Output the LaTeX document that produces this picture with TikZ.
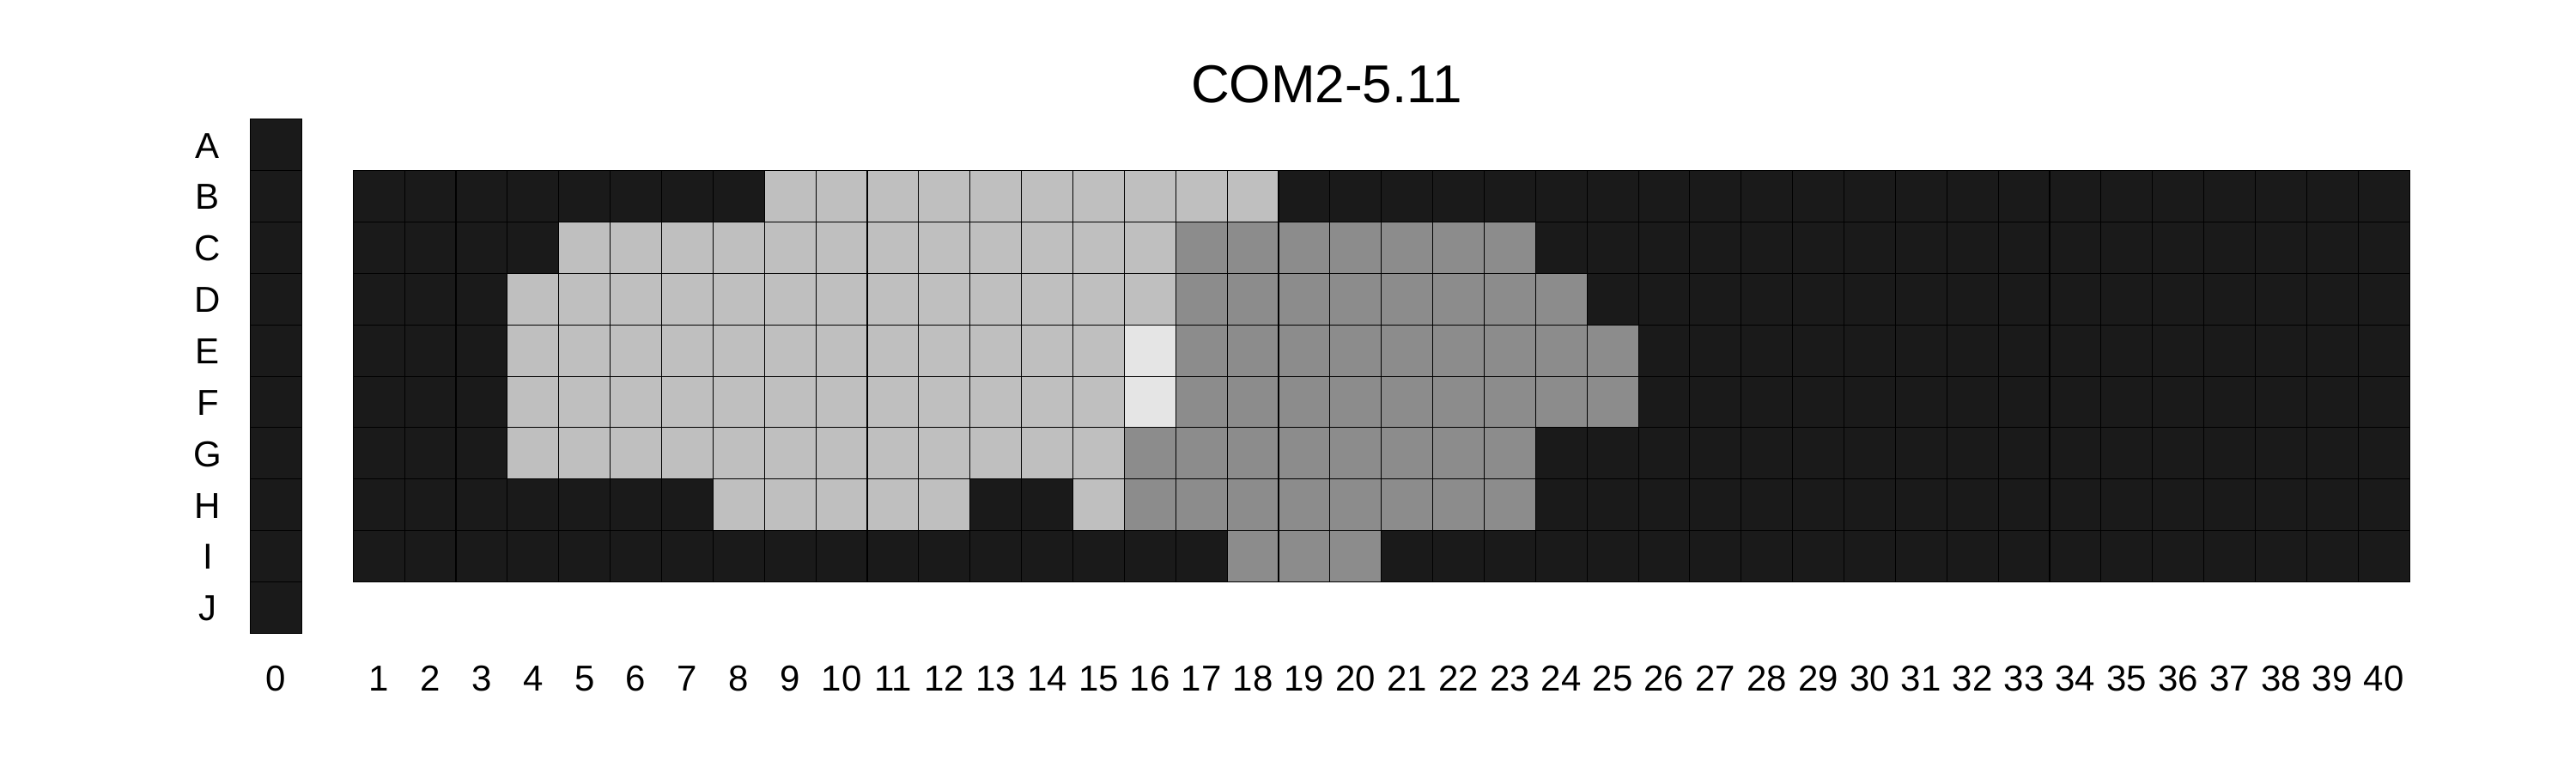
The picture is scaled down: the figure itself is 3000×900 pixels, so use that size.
\documentclass[tikz,border=0pt]{standalone}
\usepackage{fontspec}
\setmainfont{Liberation Sans}
\definecolor{cdark}{HTML}{1A1A1A}
\definecolor{clight}{HTML}{BFBFBF}
\definecolor{cmed}{HTML}{8C8C8C}
\definecolor{cvlight}{HTML}{E5E5E5}
\tikzset{
  cellbox/.style={draw=black, line width=0.55pt},
  lab/.style={inner sep=0pt, anchor=base, font=\fontsize{21pt}{25pt}\selectfont},
  ttl/.style={inner sep=0pt, anchor=base, font=\fontsize{31pt}{36pt}\selectfont}
}
\begin{document}
\begin{tikzpicture}[x=0.5pt,y=-0.5pt]
\useasboundingbox (0,0) rectangle (3000,900);
\node[ttl] (title) at (1545,119) {COM2-5.11};
\begin{scope}[shift={(411.3,138.7)}, x=29.935pt, y=-29.935pt]
  % column 0
  \foreach \r in {0,...,9}
    \draw[cellbox, fill=cdark] (-2,\r) rectangle (-1,\r+1);
  % main grid dark background
  \foreach \c in {1,...,40}
    \foreach \r in {1,...,8}
      \draw[cellbox, fill=cdark] (\c-1,\r) rectangle (\c,\r+1);
  % light cells
  \foreach \r/\a/\b in {1/9/18, 2/5/16, 3/4/16, 4/4/15, 5/4/15, 6/4/15, 7/8/12, 7/15/15}
    \foreach \c in {\a,...,\b}
      \draw[cellbox, fill=clight] (\c-1,\r) rectangle (\c,\r+1);
  % medium cells
  \foreach \r/\a/\b in {2/17/23, 3/17/24, 4/17/25, 5/17/25, 6/16/23, 7/16/23, 8/18/20}
    \foreach \c in {\a,...,\b}
      \draw[cellbox, fill=cmed] (\c-1,\r) rectangle (\c,\r+1);
  % very light cells
  \foreach \r in {4,5}
    \draw[cellbox, fill=cvlight] (15,\r) rectangle (16,\r+1);
  % row labels
  \foreach \L [count=\i from 0] in {A,B,C,D,E,F,G,H,I,J}
    \node[lab] (row\L) at (-2.828,\i+0.757) {\L};
  % column labels
  \node[lab] (col0) at (-1.5,11.113) {0};
  \foreach \c in {1,...,40}
    \node[lab] (col\c) at (\c-0.5,11.113) {\c};
\end{scope}
\end{tikzpicture}
\end{document}
